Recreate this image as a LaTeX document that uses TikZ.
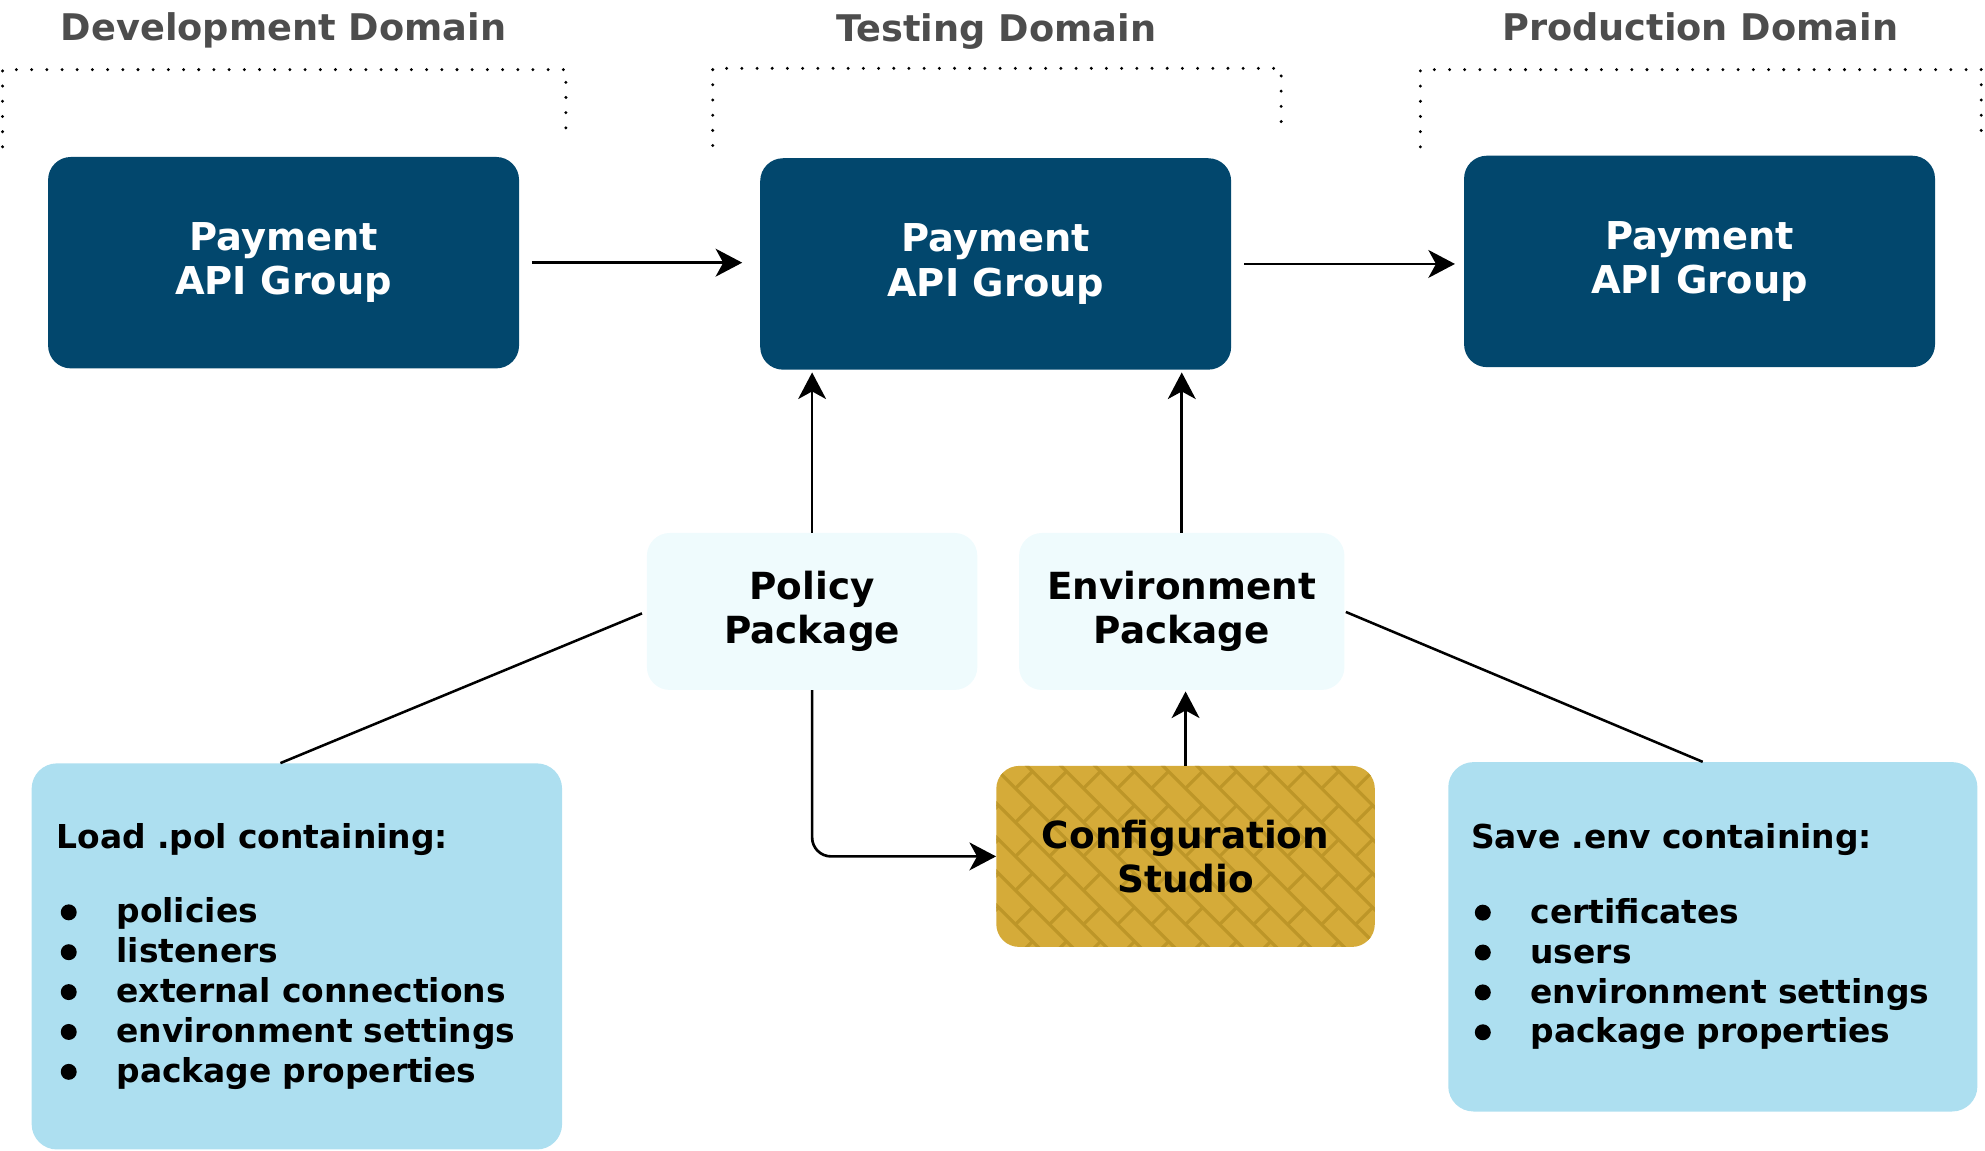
\documentclass[tikz,border=0pt]{standalone}
\usepackage{fontspec}
\setmainfont{DejaVu Sans}
\usetikzlibrary{arrows.meta,calc}
\definecolor{apiblue}{RGB}{2,71,109}
\definecolor{pkgcyan}{RGB}{239,251,253}
\definecolor{listblue}{RGB}{173,223,240}
\definecolor{gold}{RGB}{213,171,57}
\definecolor{brickline}{RGB}{189,150,40}
\definecolor{titlegray}{RGB}{77,77,77}
\newcommand\blt{\makebox[47pt][l]{\hspace{3pt}\tikz[baseline=-8.4pt]\fill (0pt,0pt) circle (6.3pt);}}
\newcommand\brickfill{%
  \foreach \k in {-10,...,10} {
    \draw[brickline, line width=2.5pt]
      ($(path picture bounding box.center)+({(-220+\k*19)*0.7071},{(-220-\k*19)*0.7071})$)
      -- ++({440*0.7071},{440*0.7071});
    \foreach \j in {-7,...,7} {
      \pgfmathsetmacro\uu{(\j+0.5*mod(abs(\k),2))*38}
      \draw[brickline, line width=2.5pt]
        ($(path picture bounding box.center)+({(\uu+\k*19)*0.7071},{(\uu-\k*19)*0.7071})$)
        -- ++({19*0.7071},{-19*0.7071});
    }
  }}
\tikzset{
  title/.style={text=titlegray, font=\fontsize{29}{35}\selectfont\bfseries, inner sep=0pt, anchor=base},
  apibox/.style={rectangle, rounded corners=18pt, fill=apiblue, text=white,
    font=\fontsize{30.3}{35}\selectfont\bfseries, align=center,
    minimum width=372pt, minimum height=167pt, inner sep=0pt},
  pkgbox/.style={rectangle, rounded corners=18pt, fill=pkgcyan,
    font=\fontsize{29.5}{35}\selectfont\bfseries, align=center,
    minimum height=124pt, inner sep=0pt},
  cfgbox/.style={rectangle, rounded corners=18pt, fill=gold,
    font=\fontsize{29.5}{35}\selectfont\bfseries, align=center,
    minimum width=299pt, minimum height=143pt, inner sep=0pt,
    path picture={\brickfill}},
  listbox/.style={rectangle, rounded corners=20pt, fill=listblue,
    font=\fontsize{26}{31.5}\selectfont\bfseries, align=left, inner ysep=0pt},
  domdots/.style={line width=2.6pt, dash pattern=on 0pt off 12pt, line cap=round},
  arr/.style={-{Stealth[length=21pt,width=22pt,inset=6pt]}, line width=2.1pt},
  conn/.style={line width=2pt},
}
\begin{document}
\begin{tikzpicture}[x=1pt,y=-1pt]
\useasboundingbox (0,0) rectangle (1568,909);
% domain titles
\node[title] (tdev) at (224,32) {Development Domain};
\node[title] (ttest) at (787,33) {Testing Domain};
\node[title] (tprod) at (1343,32) {Production Domain};
% dotted brackets
\draw[domdots] (2,116) -- (2,55) -- (447,55) -- (447,110);
\draw[domdots] (563,115) -- (563,54) -- (1012,54) -- (1012,103);
\draw[domdots] (1122,116) -- (1122,55) -- (1565,55) -- (1565,110);
% API group boxes
\node[apibox] (dev) at (224,207.5) {Payment\\API Group};
\node[apibox] (test) at (786.5,208.5) {Payment\\API Group};
\node[apibox] (prod) at (1342.5,206.5) {Payment\\API Group};
% packages
\node[pkgbox, minimum width=261pt] (pol) at (641.5,483) {Policy\\Package};
\node[pkgbox, minimum width=257pt] (env) at (933.5,483) {Environment\\Package};
% configuration studio
\node[cfgbox] (cfg) at (936.5,676.5) {Configuration\\Studio};
% list boxes
\node[listbox, minimum width=419pt, minimum height=305pt, inner xsep=20pt, text width=379pt] (lbox) at (234.5,755.5)
 {Load .pol containing:\\[27.5pt]
  \blt policies\\
  \blt listeners\\
  \blt external connections\\
  \blt environment settings\\
  \blt package properties};
\node[listbox, minimum width=418pt, minimum height=276pt, inner xsep=18pt, text width=382pt] (rbox) at (1353,740)
 {Save .env containing:\\[27.5pt]
  \blt certificates\\
  \blt users\\
  \blt environment settings\\
  \blt package properties};
% connectors
\draw[arr, shorten <=10pt, shorten >=14pt] (dev.east) -- (dev.east -| test.west);
\draw[arr, shorten <=10pt, shorten >=7pt] (test.east) -- (test.east -| prod.west);
\draw[arr, shorten >=2pt] (pol.north) -- (pol.north |- test.south);
\draw[arr, shorten >=2pt] (env.north) -- (env.north |- test.south);
\draw[arr, shorten >=1pt] (cfg.north) -- (cfg.north |- env.south);
\draw[arr, rounded corners=15pt] (pol.south) |- (cfg.west);
\draw[conn, shorten <=4pt] (pol.west) -- ([xshift=-13pt]lbox.north);
\draw[conn, shorten <=1pt] (env.east) -- ([xshift=-8pt]rbox.north);
\end{tikzpicture}
\end{document}
